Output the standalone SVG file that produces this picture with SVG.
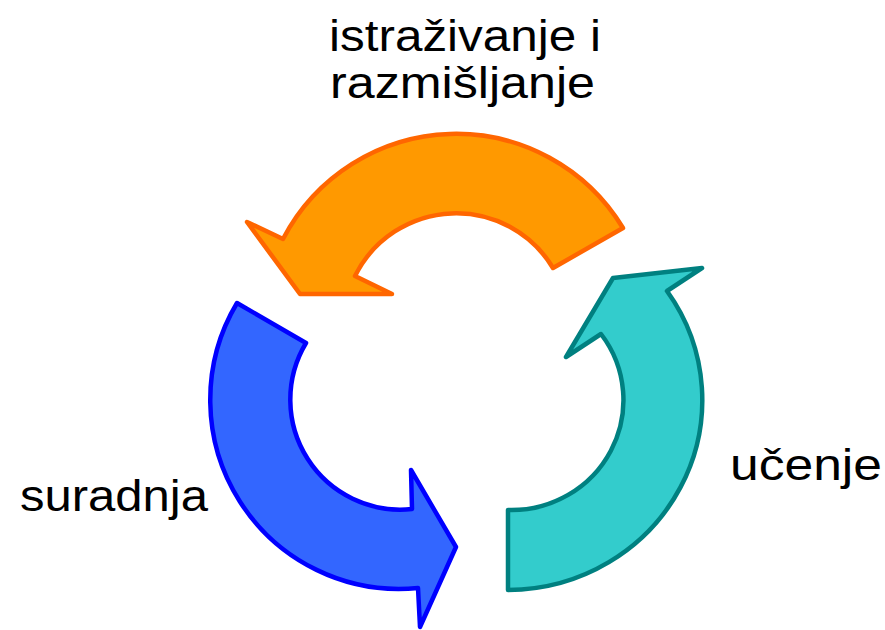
<svg xmlns="http://www.w3.org/2000/svg" width="885" height="630" viewBox="0 0 885 630">
  <style>
    .label { font-family: "Liberation Sans", Arial, sans-serif; font-size: 44px; fill: #000000; }
    .arrow { stroke-width: 4.5; stroke-linejoin: round; }
    .orange { fill: #FF9900; stroke: #FF6600; }
    .blue { fill: #3366FF; stroke: #0000FF; }
    .teal { fill: #33CCCC; stroke: #008080; }
  </style>
  <rect width="885" height="630" fill="#FFFFFF"/>

  <g id="connectors">
    <!-- top arrow: right to left over the top -->
    <path id="arrow-top" class="arrow orange"
          d="M 623,228 A 195 195 0 0 0 283,239 L 247,222 L 300,294 L 392,294 L 355,276 A 113 113 0 0 1 553,268 Z"/>
    <!-- left arrow: upper left down to bottom -->
    <path id="arrow-left" class="arrow blue"
          d="M 237,303 A 189 189 0 0 0 418,588 L 420,627 L 456,547 L 411,470 L 412,509 A 110 110 0 0 1 306,343 Z"/>
    <!-- right arrow: bottom up to upper right -->
    <path id="arrow-right" class="arrow teal"
          d="M 508,590 A 195 190 0 0 0 667,291 L 702,268 L 613,278 L 566,357 L 601,334 A 112 110 0 0 1 508,510 Z"/>
  </g>

  <g id="node-istrazivanje">
    <text class="label" x="329" y="51" textLength="272" lengthAdjust="spacingAndGlyphs">istraživanje i</text>
    <text class="label" x="330" y="98" textLength="265" lengthAdjust="spacingAndGlyphs">razmišljanje</text>
  </g>
  <g id="node-suradnja">
    <text class="label" x="20" y="511" textLength="188" lengthAdjust="spacingAndGlyphs">suradnja</text>
  </g>
  <g id="node-ucenje">
    <text class="label" x="730" y="480" textLength="152" lengthAdjust="spacingAndGlyphs">učenje</text>
  </g>
</svg>
